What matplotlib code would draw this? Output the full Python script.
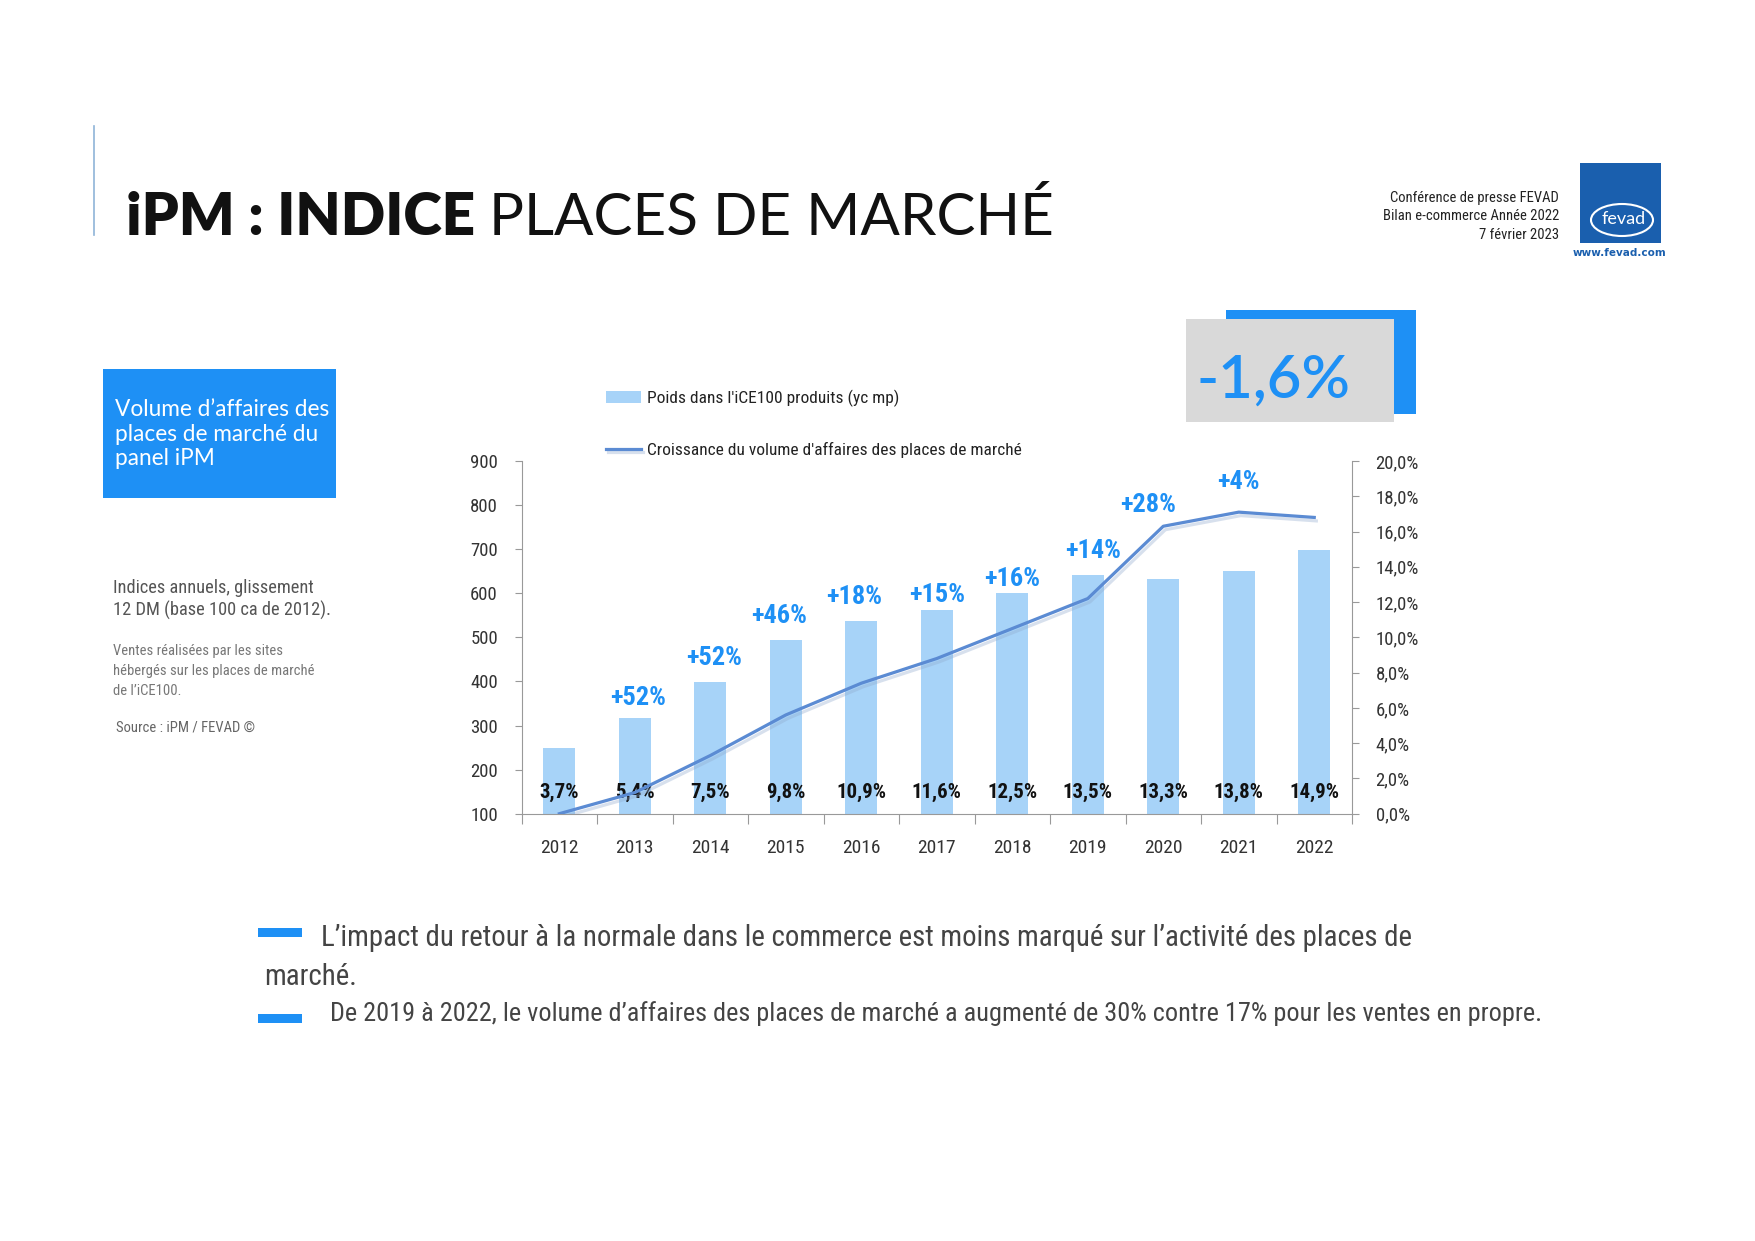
import matplotlib
matplotlib.use("Agg")
import matplotlib.pyplot as plt
import matplotlib.patheffects as pe
from matplotlib import font_manager
from matplotlib.patches import Rectangle, Ellipse
from matplotlib.lines import Line2D
from matplotlib.ticker import FuncFormatter, FixedLocator

# data
years = ['2012', '2013', '2014', '2015', '2016', '2017', '2018', '2019', '2020', '2021', '2022']
index_values = [250, 316, 399, 494, 537, 562, 601, 642, 633, 651, 697]
line_values = [0.0, 1.2, 3.3, 5.6, 7.4, 8.8, 10.5, 12.2, 16.3, 17.1, 16.8]
share_labels = ['3,7%', '5,4%', '7,5%', '9,8%', '10,9%', '11,6%', '12,5%', '13,5%', '13,3%', '13,8%', '14,9%']
growth_labels = ['', '+52%', '+52%', '+46%', '+18%', '+15%', '+16%', '+14%', '+28%', '+4%', '']
left_ticks = [100, 200, 300, 400, 500, 600, 700, 800, 900]
right_ticks = [0, 2, 4, 6, 8, 10, 12, 14, 16, 18, 20]

# pick a condensed face if there is one
available = {f.name for f in font_manager.fontManager.ttflist}
COND = next((n for n in ['Liberation Sans Narrow', 'Roboto Condensed', 'Open Sans Condensed',
                         'DejaVu Sans Condensed'] if n in available), 'Liberation Sans')
SANS = 'Lato' if 'Lato' in available else 'DejaVu Sans'

W, H = 1755, 1241
fig = plt.figure(figsize=(W / 100, H / 100), dpi=100)
fig.patch.set_facecolor('white')


def fx(x):
    return x / W


def fy(y):
    return 1 - y / H


BLUE = '#1e90f5'
GREY = '#444444'

# title
fig.add_artist(Line2D([fx(94), fx(94)], [fy(126), fy(235)], color='#8fb4d8', lw=1.2))
t = fig.text(fx(126), fy(235), 'iPM : INDICE ', fontsize=42, fontweight='heavy',
             family=SANS, color='#111111', va='baseline')
fig.canvas.draw()
bb = t.get_window_extent()
fig.text(bb.x1 / W, fy(235), 'PLACES DE MARCHÉ', fontsize=42, fontweight='normal',
         family=SANS, color='#111111', va='baseline')

# header top right
for i, s in enumerate(['Conférence de presse FEVAD', 'Bilan e-commerce Année 2022', '7 février 2023']):
    fig.text(fx(1559), fy(198 + i * 18.5), s, fontsize=10.5, family=COND, color='#222222',
             ha='right', va='center')
fig.add_artist(Rectangle((fx(1580), fy(243)), fx(81), 80 / H, transform=fig.transFigure,
                         facecolor='#1a5fae', edgecolor='none'))
fig.add_artist(Ellipse((fx(1622), fy(220)), fx(62), 32 / H, transform=fig.transFigure,
                       facecolor='none', edgecolor='white', lw=1.5))
fig.text(fx(1624), fy(219), 'fevad', fontsize=13, color='white',
         ha='center', va='center', family=SANS)
fig.text(fx(1620), fy(253), 'www.fevad.com', fontsize=7.5, color='#1a5fae',
         ha='center', va='center', fontweight='bold')

# left panel
fig.add_artist(Rectangle((fx(103), fy(498)), fx(233), 129 / H, transform=fig.transFigure,
                         facecolor=BLUE, edgecolor='none'))
for i, s in enumerate(['Volume d’affaires des', 'places de marché du', 'panel iPM']):
    fig.text(fx(115), fy(410 + i * 24.5), s, fontsize=16.3, family=SANS, color='white', va='center')
fig.text(fx(113), fy(588), 'Indices annuels, glissement', fontsize=13.2, family=COND, color='#555555', va='center')
fig.text(fx(113), fy(610), '12 DM (base 100 ca de 2012).', fontsize=13.2, family=COND, color='#555555', va='center')
for i, s in enumerate(['Ventes réalisées par les sites', 'hébergés sur les places de marché', 'de l’iCE100.']):
    fig.text(fx(113), fy(651 + i * 20), s, fontsize=10.5, family=COND, color='#777777', va='center')
fig.text(fx(116), fy(727), 'Source : iPM / FEVAD ©', fontsize=10.5, family=COND, color='#666666', va='center')

# -1,6% callout
fig.add_artist(Rectangle((fx(1226), fy(414)), fx(190), 104 / H, transform=fig.transFigure,
                         facecolor=BLUE, edgecolor='none'))
fig.add_artist(Rectangle((fx(1186), fy(422)), fx(208), 103 / H, transform=fig.transFigure,
                         facecolor='#d9d9d9', edgecolor='none'))
fig.text(fx(1274), fy(381), '-1,6%', fontsize=43, fontweight='semibold', family=SANS,
         color=BLUE, ha='center', va='center')

# chart
ax = fig.add_axes([fx(521.6), fy(813.7), (1352 - 521.6) / W, (813.7 - 461) / H])
ax2 = ax.twinx()
x = list(range(len(years)))
bars = ax.bar(x, index_values, width=0.42, bottom=0, color='#a7d3f8', zorder=2,
              label="Poids dans l'iCE100 produits (yc mp)")
line, = ax2.plot(x, line_values, color='#5b8bd3', lw=2.3, zorder=3,
                 label="Croissance du volume d'affaires des places de marché",
                 path_effects=[pe.SimpleLineShadow(offset=(1.5, -2.5), shadow_color='#8fa8cc', alpha=0.35),
                               pe.Normal()])
ax.set_xlim(-0.5, len(years) - 0.5)
ax.set_ylim(100, 900)
ax2.set_ylim(0, 20)

ax.yaxis.set_major_locator(FixedLocator(left_ticks))
ax2.yaxis.set_major_locator(FixedLocator(right_ticks))
ax2.yaxis.set_major_formatter(FuncFormatter(lambda v, p: f'{v:.1f}'.replace('.', ',') + '%'))
ax.xaxis.set_major_locator(FixedLocator([i - 0.5 for i in range(len(years) + 1)]))
ax.xaxis.set_major_formatter(FuncFormatter(lambda v, p: ''))
ax.xaxis.set_minor_locator(FixedLocator(x))
ax.set_xticklabels(years, minor=True)
ax.tick_params(axis='x', which='major', length=7, color='#999999', direction='out')
ax.tick_params(axis='x', which='minor', length=0, pad=18, labelsize=14, labelcolor='#333333')
ax.tick_params(axis='y', length=5, color='#999999', pad=12, labelsize=13.5, labelcolor='#333333')
ax2.tick_params(axis='y', length=5, color='#999999', pad=12, labelsize=13.5, labelcolor='#333333')
for lab in ax.get_xticklabels(minor=True) + ax.get_yticklabels() + ax2.get_yticklabels():
    lab.set_family(COND)
for a in (ax, ax2):
    a.spines['top'].set_visible(False)
    for s in ('left', 'right', 'bottom'):
        a.spines[s].set_color('#999999')
ax.spines['right'].set_visible(False)
ax2.spines['left'].set_visible(False)
ax2.spines['bottom'].set_visible(False)

# labels inside / above the bars
for i in x:
    ax.text(i, 148, share_labels[i], ha='center', va='center', fontsize=15, fontweight='bold',
            family=COND, color='#111111', zorder=5)
label_dx = [0, 2, 3, -5, -5, 0, 0, 4, -11, 0, 0]
label_dy = [0, 15, 17, 17, 17, 11, 10, 17, 15, 22, 0]
for i in x:
    if growth_labels[i]:
        top = max(index_values[i], 100 + 40 * line_values[i])
        ax.annotate(growth_labels[i], (i, top), xytext=(label_dx[i], label_dy[i]), textcoords='offset points',
                    ha='center', va='center', fontsize=19, fontweight='bold', family=COND,
                    color=BLUE, zorder=5)

leg = ax.legend(handles=[bars, line], loc='upper left', bbox_to_anchor=(fx(606), fy(390)),
                bbox_transform=fig.transFigure, frameon=False, borderpad=0, borderaxespad=0,
                labelspacing=2.0, handlelength=2.0, handletextpad=0.35,
                prop={'family': COND, 'size': 12.5})
for txt in leg.get_texts():
    txt.set_color('#222222')

# bottom bullets
fig.add_artist(Rectangle((fx(258), fy(937)), fx(44), 9 / H, transform=fig.transFigure,
                         facecolor=BLUE, edgecolor='none'))
fig.text(fx(321), fy(938), 'L’impact du retour à la normale dans le commerce est moins marqué sur l’activité des places de',
         fontsize=20.8, family=COND, color=GREY, va='center')
fig.text(fx(264), fy(977), 'marché.', fontsize=20.8, family=COND, color=GREY, va='center')
fig.add_artist(Rectangle((fx(258), fy(1023)), fx(44), 9 / H, transform=fig.transFigure,
                         facecolor=BLUE, edgecolor='none'))
fig.text(fx(330), fy(1014), 'De 2019 à 2022, le volume d’affaires des places de marché a augmenté de 30% contre 17% pour les ventes en propre.',
         fontsize=18.9, family=COND, color=GREY, va='center')

fig.savefig('out.png', dpi=100)
